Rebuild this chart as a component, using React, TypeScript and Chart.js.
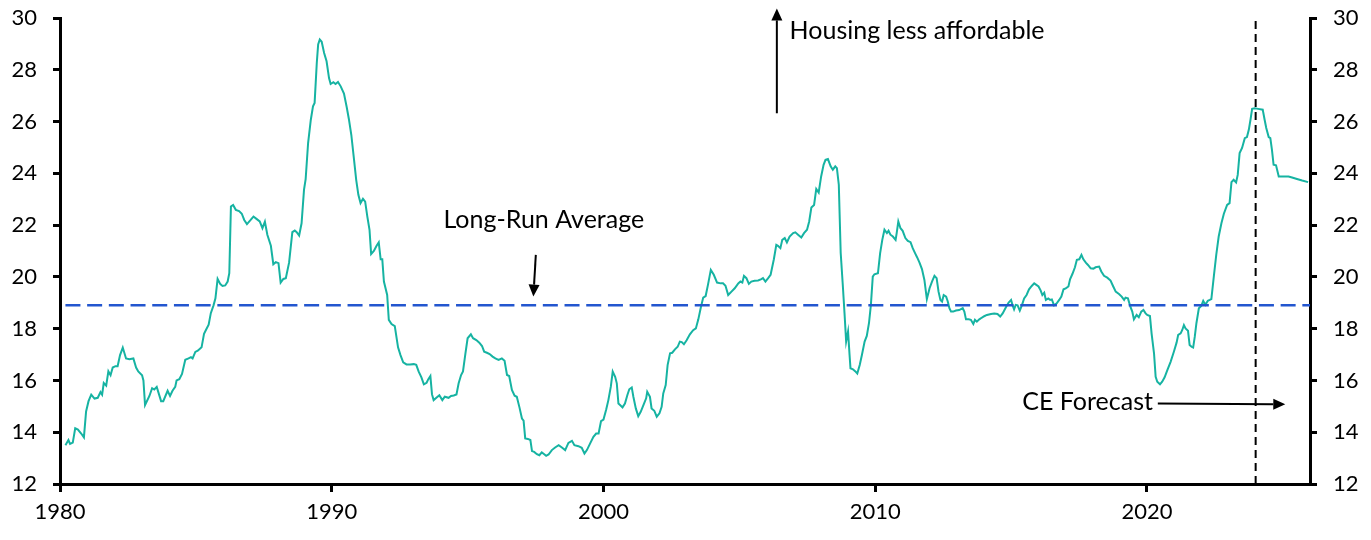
import React, { useEffect, useRef } from "react";
import { Chart, registerables } from "chart.js";

Chart.register(...registerables);

// Decimal-year dates of the series vertices
const dates: number[] = [
  1980.20, 1980.31, 1980.37, 1980.47, 1980.56, 1980.66, 1980.78, 1980.88, 1980.96, 1981.05,
  1981.15, 1981.27, 1981.39, 1981.49, 1981.55, 1981.61, 1981.70, 1981.78, 1981.86, 1981.94,
  1982.04, 1982.12, 1982.21, 1982.31, 1982.43, 1982.55, 1982.70, 1982.80, 1982.88, 1983.02,
  1983.07, 1983.13, 1983.29, 1983.39, 1983.47, 1983.56, 1983.72, 1983.80, 1983.96, 1984.05,
  1984.14, 1984.24, 1984.29, 1984.39, 1984.49, 1984.61, 1984.73, 1984.82, 1984.88, 1984.98,
  1985.07, 1985.21, 1985.30, 1985.37, 1985.47, 1985.55, 1985.65, 1985.72, 1985.80, 1985.90,
  1985.98, 1986.08, 1986.17, 1986.23, 1986.29, 1986.37, 1986.47, 1986.59, 1986.69, 1986.78,
  1986.88, 1987.00, 1987.12, 1987.23, 1987.35, 1987.45, 1987.54, 1987.63, 1987.76, 1987.85,
  1987.94, 1988.04, 1988.12, 1988.22, 1988.31, 1988.43, 1988.55, 1988.64, 1988.71, 1988.80,
  1988.89, 1988.98, 1989.04, 1989.13, 1989.23, 1989.31, 1989.37, 1989.45, 1989.50, 1989.56,
  1989.63, 1989.72, 1989.81, 1989.90, 1989.96, 1990.06, 1990.14, 1990.23, 1990.33, 1990.45,
  1990.55, 1990.63, 1990.72, 1990.82, 1990.90, 1990.98, 1991.06, 1991.15, 1991.23, 1991.31,
  1991.39, 1991.45, 1991.55, 1991.65, 1991.73, 1991.80, 1991.86, 1991.92, 1992.04, 1992.10,
  1992.20, 1992.32, 1992.44, 1992.53, 1992.63, 1992.75, 1992.88, 1993.02, 1993.11, 1993.20,
  1993.30, 1993.39, 1993.49, 1993.55, 1993.63, 1993.69, 1993.75, 1993.85, 1993.96, 1994.07,
  1994.16, 1994.30, 1994.39, 1994.49, 1994.59, 1994.67, 1994.76, 1994.83, 1994.92, 1995.00,
  1995.12, 1995.20, 1995.32, 1995.43, 1995.53, 1995.61, 1995.71, 1995.81, 1995.92, 1996.02,
  1996.14, 1996.26, 1996.36, 1996.45, 1996.53, 1996.63, 1996.73, 1996.81, 1996.91, 1997.00,
  1997.06, 1997.12, 1997.22, 1997.31, 1997.37, 1997.45, 1997.55, 1997.64, 1997.73, 1997.82,
  1997.89, 1997.98, 1998.10, 1998.22, 1998.35, 1998.47, 1998.59, 1998.71, 1998.84, 1998.93,
  1999.08, 1999.20, 1999.30, 1999.39, 1999.51, 1999.63, 1999.73, 1999.82, 1999.91, 2000.00,
  2000.10, 2000.18, 2000.27, 2000.34, 2000.43, 2000.49, 2000.55, 2000.61, 2000.70, 2000.79,
  2000.88, 2000.95, 2001.04, 2001.10, 2001.19, 2001.28, 2001.37, 2001.47, 2001.57, 2001.61,
  2001.71, 2001.77, 2001.87, 2001.96, 2002.06, 2002.14, 2002.20, 2002.29, 2002.36, 2002.45,
  2002.53, 2002.63, 2002.73, 2002.81, 2002.88, 2002.96, 2003.06, 2003.18, 2003.30, 2003.40,
  2003.49, 2003.58, 2003.67, 2003.76, 2003.85, 2003.95, 2004.06, 2004.18, 2004.31, 2004.40,
  2004.49, 2004.59, 2004.71, 2004.83, 2004.96, 2005.04, 2005.11, 2005.17, 2005.26, 2005.35,
  2005.44, 2005.56, 2005.69, 2005.81, 2005.87, 2005.96, 2006.06, 2006.15, 2006.27, 2006.36,
  2006.42, 2006.51, 2006.58, 2006.67, 2006.75, 2006.85, 2006.98, 2007.06, 2007.16, 2007.28,
  2007.38, 2007.49, 2007.57, 2007.65, 2007.75, 2007.83, 2007.92, 2008.01, 2008.10, 2008.17,
  2008.26, 2008.36, 2008.44, 2008.53, 2008.59, 2008.66, 2008.73, 2008.81, 2008.87, 2008.93,
  2009.00, 2009.06, 2009.09, 2009.18, 2009.26, 2009.34, 2009.43, 2009.51, 2009.61, 2009.69,
  2009.77, 2009.84, 2009.91, 2009.97, 2010.10, 2010.18, 2010.26, 2010.34, 2010.43, 2010.49,
  2010.56, 2010.65, 2010.75, 2010.79, 2010.85, 2010.93, 2011.01, 2011.11, 2011.20, 2011.30,
  2011.38, 2011.47, 2011.54, 2011.63, 2011.72, 2011.81, 2011.90, 2012.00, 2012.09, 2012.18,
  2012.26, 2012.33, 2012.40, 2012.46, 2012.52, 2012.61, 2012.67, 2012.73, 2012.79, 2012.87,
  2012.97, 2013.09, 2013.22, 2013.28, 2013.34, 2013.44, 2013.52, 2013.61, 2013.67, 2013.74,
  2013.83, 2013.93, 2014.01, 2014.11, 2014.26, 2014.38, 2014.50, 2014.60, 2014.69, 2014.81,
  2014.91, 2015.00, 2015.05, 2015.11, 2015.17, 2015.24, 2015.32, 2015.39, 2015.48, 2015.57,
  2015.66, 2015.76, 2015.85, 2015.93, 2016.01, 2016.09, 2016.15, 2016.22, 2016.28, 2016.37,
  2016.44, 2016.50, 2016.58, 2016.68, 2016.77, 2016.85, 2016.93, 2017.01, 2017.11, 2017.17,
  2017.26, 2017.35, 2017.42, 2017.51, 2017.59, 2017.66, 2017.75, 2017.83, 2017.93, 2018.03,
  2018.11, 2018.24, 2018.32, 2018.42, 2018.54, 2018.66, 2018.76, 2018.85, 2018.97, 2019.07,
  2019.16, 2019.21, 2019.30, 2019.39, 2019.46, 2019.52, 2019.62, 2019.70, 2019.79, 2019.87,
  2019.95, 2020.01, 2020.11, 2020.17, 2020.26, 2020.32, 2020.38, 2020.48, 2020.56, 2020.65,
  2020.75, 2020.87, 2020.99, 2021.09, 2021.15, 2021.24, 2021.30, 2021.36, 2021.42, 2021.51,
  2021.57, 2021.64, 2021.70, 2021.76, 2021.82, 2021.91, 2022.00, 2022.07, 2022.15, 2022.24,
  2022.31, 2022.37, 2022.46, 2022.55, 2022.64, 2022.74, 2022.83, 2022.95, 2023.04, 2023.11,
  2023.19, 2023.28, 2023.34, 2023.41, 2023.50, 2023.60, 2023.68, 2023.75, 2023.81, 2023.87,
  2023.97, 2024.09, 2024.26, 2024.33, 2024.39, 2024.48, 2024.54, 2024.60, 2024.66, 2024.75,
  2024.85, 2025.03, 2025.21, 2025.34, 2025.52, 2025.71, 2025.93,
];

// Series values (ratio)
const ratio: number[] = [
  13.5, 13.7, 13.55, 13.6, 14.15, 14.1, 13.95, 13.8, 14.8, 15.2,
  15.45, 15.3, 15.33, 15.55, 15.45, 15.9, 15.8, 16.35, 16.2, 16.5,
  16.55, 16.55, 16.98, 17.27, 16.85, 16.82, 16.85, 16.5, 16.35, 16.2,
  16.0, 15.05, 15.4, 15.7, 15.65, 15.75, 15.2, 15.2, 15.6, 15.4,
  15.6, 15.75, 16.0, 16.05, 16.25, 16.8, 16.85, 16.9, 16.85, 17.1,
  17.15, 17.28, 17.8, 17.95, 18.15, 18.6, 18.9, 19.17, 19.92, 19.72,
  19.65, 19.67, 19.82, 20.14, 22.72, 22.78, 22.59, 22.54, 22.44, 22.2,
  22.04, 22.18, 22.33, 22.24, 22.14, 21.88, 22.13, 21.63, 21.2, 20.49,
  20.57, 20.53, 19.78, 19.92, 19.95, 20.55, 21.73, 21.79, 21.73, 21.6,
  22.07, 23.37, 23.78, 25.17, 26.07, 26.59, 26.72, 28.27, 28.98, 29.17,
  29.08, 28.65, 28.33, 27.68, 27.45, 27.52, 27.45, 27.53, 27.36, 27.08,
  26.56, 26.1, 25.49, 24.53, 23.75, 23.17, 22.85, 23.02, 22.91, 22.33,
  21.82, 20.88, 21.0, 21.2, 21.33, 20.68, 20.68, 19.82, 19.3, 18.34,
  18.18, 18.1, 17.28, 16.98, 16.7, 16.62, 16.62, 16.63, 16.6, 16.34,
  16.12, 15.85, 15.91, 16.04, 16.17, 15.46, 15.24, 15.33, 15.43, 15.24,
  15.37, 15.33, 15.4, 15.42, 15.46, 15.89, 16.21, 16.35, 17.05, 17.63,
  17.78, 17.63, 17.56, 17.46, 17.33, 17.11, 17.07, 17.02, 16.92, 16.85,
  16.79, 16.85, 16.76, 16.21, 16.17, 15.63, 15.41, 15.37, 14.95, 14.53,
  14.45, 13.76, 13.74, 13.7, 13.27, 13.24, 13.15, 13.11, 13.22, 13.15,
  13.09, 13.14, 13.31, 13.41, 13.5, 13.41, 13.31, 13.59, 13.67, 13.5,
  13.46, 13.4, 13.18, 13.31, 13.57, 13.82, 13.95, 13.95, 14.43, 14.49,
  14.88, 15.24, 15.76, 16.34, 16.14, 15.89, 15.11, 15.05, 14.96, 15.11,
  15.44, 15.66, 15.73, 15.37, 14.92, 14.62, 14.79, 15.05, 15.31, 15.56,
  15.37, 14.92, 14.83, 14.6, 14.73, 14.98, 15.5, 15.82, 16.59, 17.05,
  17.07, 17.2, 17.3, 17.5, 17.48, 17.4, 17.55, 17.78, 17.94, 18.01,
  18.36, 18.81, 19.2, 19.26, 19.72, 20.27, 20.08, 19.78, 19.75, 19.75,
  19.66, 19.3, 19.43, 19.56, 19.75, 19.82, 19.78, 20.04, 19.95, 19.73,
  19.82, 19.85, 19.86, 19.91, 19.95, 19.82, 19.95, 20.08, 20.68, 21.24,
  21.2, 21.11, 21.43, 21.5, 21.33, 21.56, 21.69, 21.72, 21.63, 21.52,
  21.69, 21.82, 22.14, 22.68, 22.78, 23.4, 23.26, 23.88, 24.33, 24.52,
  24.55, 24.27, 24.14, 24.27, 24.2, 23.56, 20.92, 19.63, 18.6, 17.5,
  17.89, 16.92, 16.47, 16.43, 16.36, 16.27, 16.6, 16.98, 17.5, 17.72,
  18.21, 18.91, 20.01, 20.1, 20.14, 20.91, 21.43, 21.82, 21.69, 21.78,
  21.63, 21.56, 21.43, 21.69, 22.14, 21.88, 21.78, 21.5, 21.39, 21.34,
  21.11, 20.91, 20.76, 20.55, 20.3, 19.88, 19.14, 19.56, 19.82, 20.04,
  19.95, 19.43, 19.11, 19.05, 19.3, 19.24, 19.05, 18.79, 18.66, 18.66,
  18.7, 18.72, 18.79, 18.66, 18.36, 18.36, 18.34, 18.18, 18.34, 18.27,
  18.36, 18.43, 18.48, 18.53, 18.57, 18.59, 18.57, 18.47, 18.59, 18.83,
  19.01, 19.11, 18.92, 18.75, 18.92, 18.9, 18.7, 18.88, 19.17, 19.3,
  19.52, 19.65, 19.75, 19.69, 19.63, 19.47, 19.3, 19.39, 19.11, 19.17,
  19.11, 19.13, 18.9, 18.98, 19.11, 19.24, 19.52, 19.56, 19.63, 19.91,
  20.12, 20.37, 20.66, 20.68, 20.85, 20.68, 20.55, 20.46, 20.33, 20.32,
  20.37, 20.4, 20.21, 20.04, 19.97, 19.86, 19.63, 19.43, 19.34, 19.24,
  19.11, 19.2, 19.17, 18.85, 18.66, 18.36, 18.53, 18.44, 18.66, 18.72,
  18.59, 18.53, 18.49, 17.82, 17.05, 16.14, 15.95, 15.85, 15.95, 16.12,
  16.4, 16.72, 17.11, 17.46, 17.76, 17.82, 17.95, 18.14, 18.01, 17.92,
  17.37, 17.3, 17.27, 17.69, 18.21, 18.79, 18.88, 19.07, 18.92, 19.08,
  19.11, 19.14, 20.01, 20.85, 21.56, 22.07, 22.44, 22.78, 22.85, 23.66,
  23.75, 23.65, 23.94, 24.78, 24.98, 25.36, 25.4, 25.69, 26.07, 26.49,
  26.51, 26.49, 26.46, 26.07, 25.75, 25.4, 25.36, 24.91, 24.33, 24.31,
  23.88, 23.88, 23.88, 23.84, 23.78, 23.72, 23.66,
];

const longRunAverage = 18.9;
const forecastStart = 2024.0;
const xTickYears: number[] = [1980, 1990, 2000, 2010, 2020];
const xMin = 1980;
const xMax = 2026;
const yMin = 12;
const yMax = 30;

const FONT = "Lato, 'Open Sans', sans-serif";

const annotationPlugin = {
  id: "ceAnnotations",
  afterDatasetsDraw(chart: any) {
    const { ctx, scales } = chart;
    const X = (v: number) => scales.x.getPixelForValue(v);
    const Y = (v: number) => scales.y.getPixelForValue(v);
    ctx.save();
    ctx.fillStyle = "#000";
    ctx.strokeStyle = "#000";
    ctx.font = `25px ${FONT}`;
    ctx.textBaseline = "alphabetic";
    ctx.textAlign = "left";
    ctx.fillText("Housing less affordable", X(2006.85), Y(29.19));
    ctx.fillText("Long-Run Average", X(1994.11), Y(21.88));
    ctx.fillText("CE Forecast", X(2015.41), Y(14.855));

    const arrow = (x1: number, y1: number, x2: number, y2: number) => {
      const ang = Math.atan2(y2 - y1, x2 - x1);
      const hl = 12;
      const hw = 5.5;
      const bx = x2 - hl * Math.cos(ang);
      const by = y2 - hl * Math.sin(ang);
      ctx.lineWidth = 2;
      ctx.beginPath();
      ctx.moveTo(x1, y1);
      ctx.lineTo(bx, by);
      ctx.stroke();
      ctx.beginPath();
      ctx.moveTo(x2, y2);
      ctx.lineTo(bx + hw * Math.sin(ang), by - hw * Math.cos(ang));
      ctx.lineTo(bx - hw * Math.sin(ang), by + hw * Math.cos(ang));
      ctx.closePath();
      ctx.fill();
    };
    arrow(X(2006.38), Y(26.32), X(2006.38), Y(30.37));
    arrow(X(1997.51), Y(20.85), X(1997.42), Y(19.24));
    arrow(X(2020.4), Y(15.11), X(2025.09), Y(15.08));
    ctx.restore();
  },
};

export default function App() {
  const ref = useRef<HTMLCanvasElement | null>(null);

  useEffect(() => {
    document.body.style.margin = "0";
    const canvas = ref.current;
    if (!canvas) return;

    const axisCommon = {
      border: { display: true, color: "#000", width: 3 },
      grid: {
        display: true,
        drawOnChartArea: false,
        drawTicks: true,
        tickLength: 7,
        lineWidth: 3,
        color: "#000",
      },
    };

    const fitVertical = (w: number) => (scale: any) => {
      scale.width = w;
      scale.paddingTop = 0;
      scale.paddingBottom = 0;
    };

    const chart = new Chart(canvas, {
      type: "line",
      data: {
        datasets: [
          {
            label: "Forecast start",
            data: [
              { x: forecastStart, y: yMin },
              { x: forecastStart, y: yMax },
            ],
            borderColor: "#000",
            borderWidth: 2,
            borderDash: [8, 5],
            pointRadius: 0,
            fill: false,
          },
          {
            label: "Long-Run Average",
            data: [
              { x: dates[0], y: longRunAverage },
              { x: xMax, y: longRunAverage },
            ],
            borderColor: "#2356cf",
            borderWidth: 2.5,
            borderDash: [15, 6.7],
            pointRadius: 0,
            fill: false,
          },
          {
            label: "Ratio",
            data: dates.map((d, i) => ({ x: d, y: ratio[i] })),
            borderColor: "#16b3a2",
            borderWidth: 2,
            pointRadius: 0,
            tension: 0,
            fill: false,
          },
        ],
      },
      options: {
        animation: false,
        responsive: false,
        maintainAspectRatio: false,
        layout: { padding: { top: 18, left: 0, right: 0, bottom: 0 } },
        plugins: {
          legend: { display: false },
          tooltip: { enabled: false },
        },
        scales: {
          x: {
            type: "linear",
            position: "bottom",
            min: xMin,
            max: xMax,
            ...axisCommon,
            grid: { ...axisCommon.grid, tickLength: 8 },
            afterBuildTicks: (scale: any) => {
              scale.ticks = xTickYears.map((v) => ({ value: v }));
            },
            afterFit: (scale: any) => {
              scale.height = 56;
              scale.paddingLeft = 0;
              scale.paddingRight = 0;
            },
            ticks: {
              color: "#000",
              font: { family: FONT, size: 22 },
              padding: 7,
              maxRotation: 0,
              autoSkip: false,
              callback: (v: any) => String(v),
            },
          },
          y: {
            type: "linear",
            position: "left",
            min: yMin,
            max: yMax,
            ...axisCommon,
            afterFit: fitVertical(60),
            ticks: {
              stepSize: 2,
              color: "#000",
              font: { family: FONT, size: 22 },
              padding: 16,
            },
          },
          y2: {
            type: "linear",
            position: "right",
            min: yMin,
            max: yMax,
            ...axisCommon,
            afterFit: fitVertical(61),
            ticks: {
              stepSize: 2,
              color: "#000",
              font: { family: FONT, size: 22 },
              padding: 16,
            },
          },
        },
      } as any,
      plugins: [annotationPlugin],
    });

    return () => chart.destroy();
  }, []);

  return (
    <div style={{ width: 1371, height: 540 }}>
      <canvas ref={ref} width={1371} height={540} style={{ display: "block" }} />
    </div>
  );
}
